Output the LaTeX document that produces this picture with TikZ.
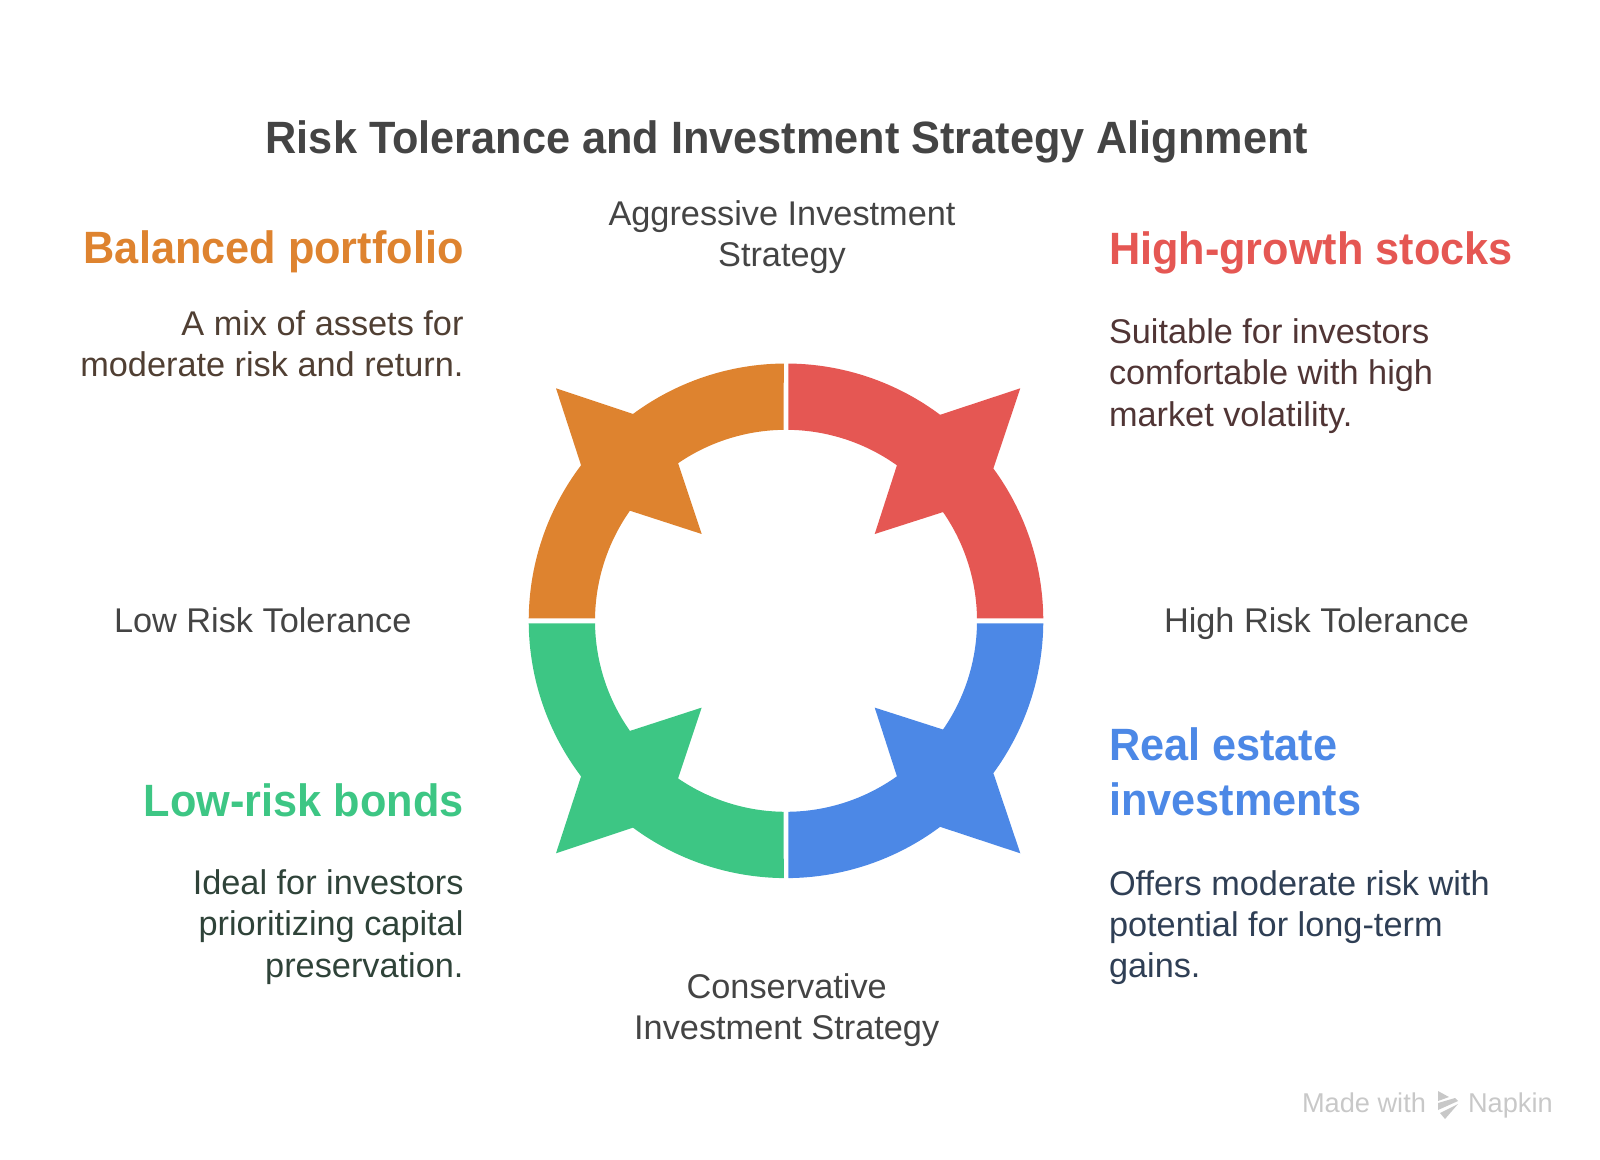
\documentclass[tikz,border=0pt]{standalone}
\usepackage{fontspec}
\setmainfont[BoldFeatures={FakeStretch=0.955}]{Liberation Sans}
\usetikzlibrary{positioning}
\definecolor{ringorange}{HTML}{DE832F}
\definecolor{ringred}{HTML}{E55753}
\definecolor{ringblue}{HTML}{4C88E6}
\definecolor{ringgreen}{HTML}{3DC684}
\definecolor{txtgray}{HTML}{444444}
\definecolor{markgray}{HTML}{C8C8C8}
\definecolor{descorange}{HTML}{503F33}
\definecolor{descred}{HTML}{503535}
\definecolor{descblue}{HTML}{2F3F55}
\definecolor{descgreen}{HTML}{2F4339}
\tikzset{
  basetext/.style={inner sep=0pt,outer sep=0pt},
  headtext/.style={basetext,font=\fontsize{45.3}{55}\selectfont\bfseries},
  desctext/.style={basetext,font=\fontsize{34.3}{41.4}\selectfont},
  axistext/.style={desctext,text=txtgray,align=center},
}
\def\ringout{257.3}
\def\ringin{191}
\begin{document}
\begin{tikzpicture}[x=1pt,y=1pt]
\useasboundingbox (0,0) rectangle (1600,-1159);

% ring, left and right quadrants
\foreach \vs/\col in {1/ringorange,-1/ringgreen}{
  \begin{scope}[shift={(786,-620.8)},yscale=\vs]
  \fill[\col] (90.5:\ringout) arc[start angle=90.5,end angle=126.5,radius=\ringout pt] -- (-230,232.5) -- (142.8:\ringout)
    arc[start angle=142.8,end angle=179.44,radius=\ringout pt] -- (179.25:\ringin)
    arc[start angle=179.25,end angle=144.8,radius=\ringin pt] -- (-84.3,86.8) -- (124.4:\ringin)
    arc[start angle=124.4,end angle=90.69,radius=\ringin pt] -- cycle;
  \end{scope}
}
\foreach \vs/\col in {1/ringred,-1/ringblue}{
  \begin{scope}[shift={(786,-620.8)},yscale=\vs]
  \fill[\col] (89.5:\ringout) arc[start angle=89.5,end angle=53.2,radius=\ringout pt] -- (234.3,232.5) -- (36.3:\ringout)
    arc[start angle=36.3,end angle=0.56,radius=\ringout pt] -- (0.75:\ringin)
    arc[start angle=0.75,end angle=34.7,radius=\ringin pt] -- (88.7,86.8) -- (54.5:\ringin)
    arc[start angle=54.5,end angle=89.31,radius=\ringin pt] -- cycle;
  \end{scope}
}

\node[headtext,text=txtgray,anchor=base] (title) at (787,-153) {Risk Tolerance and Investment Strategy Alignment};

\node[axistext,anchor=north] (aggr) at (782,-200.5) {Aggressive Investment\\Strategy};
\node[axistext,anchor=north] (cons) at (786.7,-973.5) {Conservative\\Investment Strategy};
\node[axistext,anchor=base west] (lowrisk) at (114,-632) {Low Risk Tolerance};
\node[axistext,anchor=base west] (highrisk) at (1164,-632) {High Risk Tolerance};

\node[headtext,text=ringorange,anchor=base east] (balanced) at (463.5,-263) {Balanced portfolio};
\node[desctext,text=descorange,align=right,below=38pt of balanced.south east,anchor=north east] (balanceddesc) {A mix of assets for\\moderate risk and return.};

\node[headtext,text=ringred,anchor=base west] (stocks) at (1109,-264) {High-growth stocks};
\node[desctext,text=descred,align=left,below=45pt of stocks.south west,anchor=north west] (stocksdesc) {Suitable for investors\\comfortable with high\\market volatility.};

\node[headtext,text=ringgreen,anchor=base east] (bonds) at (463.5,-816) {Low-risk bonds};
\node[desctext,text=descgreen,align=right,below=53pt of bonds.south east,anchor=north east] (bondsdesc) {Ideal for investors\\prioritizing capital\\preservation.};

\node[headtext,text=ringblue,anchor=north west,align=left] (estate) at (1109,-728) {Real estate\\investments};
\node[desctext,text=descblue,align=left,below=54pt of estate.south west,anchor=north west] (estatedesc) {Offers moderate risk with\\potential for long-term\\gains.};

\node[basetext,font=\fontsize{27.2}{30}\selectfont,text=markgray,anchor=base west] (made) at (1302,-1112) {Made with};
\node[basetext,font=\fontsize{27.2}{30}\selectfont,text=markgray,anchor=base west] (napkin) at (1468,-1112) {Napkin};
\fill[markgray] (1438,-1091) -- (1449,-1097) -- (1438,-1101) -- cycle;
\fill[markgray] (1438,-1103) -- (1455,-1098) -- (1458,-1101) -- (1438,-1110) -- cycle;
\fill[markgray] (1440,-1113) -- (1458,-1104) -- (1445,-1119) -- cycle;
\end{tikzpicture}
\end{document}
